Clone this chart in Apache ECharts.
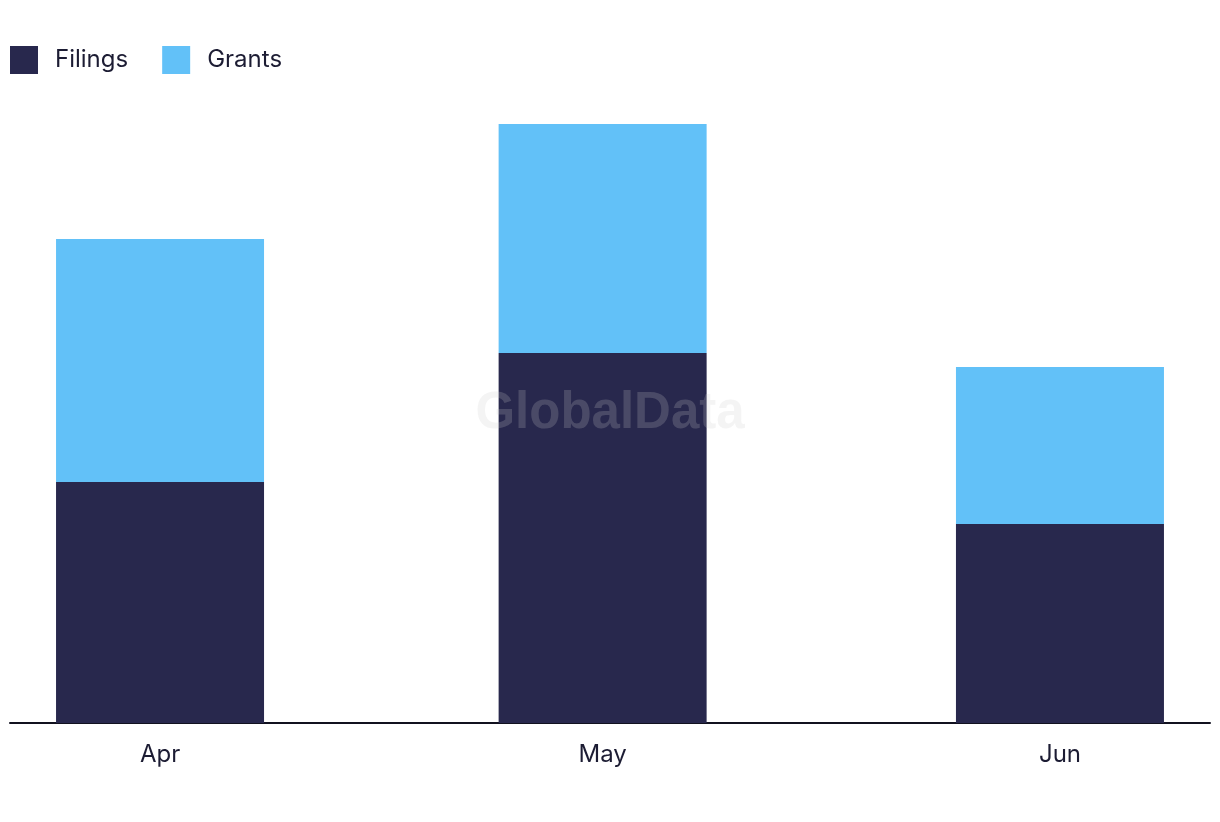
<!DOCTYPE html>
<html>
<head>
<meta charset="utf-8">
<script src="https://cdn.jsdelivr.net/npm/echarts@6/dist/echarts.min.js"></script>
<style>
html,body{margin:0;padding:0;background:#fff;}
#c{width:1220px;height:822px;}
</style>
</head>
<body>
<div id="c"></div>
<script>
const months = ['Apr', 'May', 'Jun'];
// position of each month's start, in days from 1 April (Apr 30 days, May 31 days)
const monthDays = [0, 30, 61];
const filings = [241, 370, 199];
const grants = [243, 229, 157];

const pad = 10.17;

const chart = echarts.init(document.getElementById('c'));
chart.setOption({
  animation: false,
  backgroundColor: '#ffffff',
  textStyle: { fontFamily: 'Inter, Lato, sans-serif' },
  legend: {
    left: 10, top: 46, padding: 0,
    itemWidth: 28, itemHeight: 28, itemGap: 34,
    icon: 'rect',
    textStyle: { fontSize: 24, color: '#1c1c33', fontFamily: 'Inter', padding: [0, 0, 0, 12] },
    data: ['Filings', 'Grants']
  },
  grid: { left: 10, right: 10, top: 123, bottom: 99, containLabel: false },
  xAxis: {
    type: 'value',
    min: monthDays[0] - pad,
    max: monthDays[2] + pad,
    axisLine: { show: true, lineStyle: { color: '#11111f', width: 2 } },
    axisTick: { show: false },
    splitLine: { show: false },
    axisLabel: {
      customValues: monthDays,
      fontSize: 24, color: '#1c1c33', fontFamily: 'Inter', margin: 20,
      formatter: function (v) {
        const i = monthDays.indexOf(v);
        return i >= 0 ? months[i] : '';
      }
    }
  },
  yAxis: {
    type: 'value', min: 0, max: 600,
    show: false, splitLine: { show: false }
  },
  graphic: [{
    type: 'text', left: 'center', top: 388, z: 100,
    style: { text: 'GlobalData', font: 'bold 51px "Liberation Sans", Arial, sans-serif', fill: 'rgba(202,202,202,0.21)' }
  }],
  series: [
    {
      name: 'Filings', type: 'bar', stack: 'a', barWidth: 208,
      itemStyle: { color: '#28284d' },
      dimensions: ['count', 'day'],
      encode: { x: 'day', y: 'count' },
      data: monthDays.map((t, i) => [filings[i], t])
    },
    {
      name: 'Grants', type: 'bar', stack: 'a', barWidth: 208,
      itemStyle: { color: '#62c1f8' },
      dimensions: ['count', 'day'],
      encode: { x: 'day', y: 'count' },
      data: monthDays.map((t, i) => [grants[i], t])
    }
  ]
});
</script>
</body>
</html>
